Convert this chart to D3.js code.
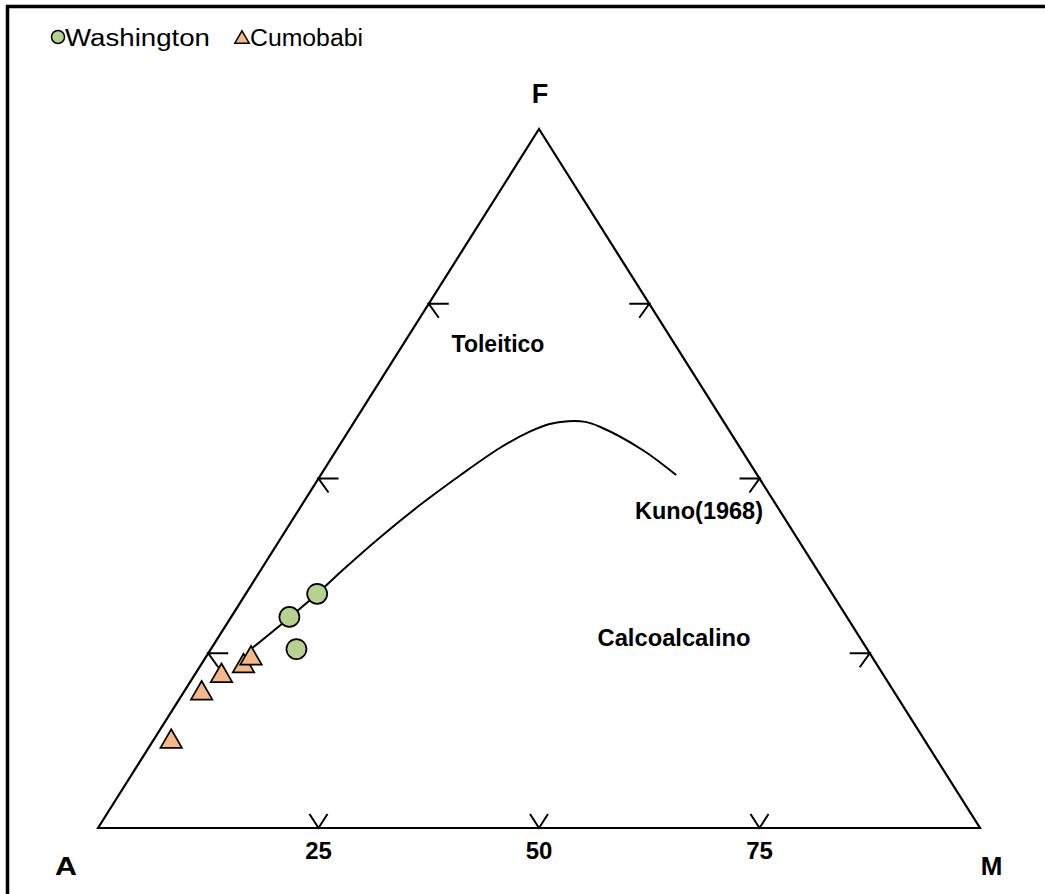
<!DOCTYPE html>
<html>
<head>
<meta charset="utf-8">
<script src="https://cdn.jsdelivr.net/npm/d3@7"></script>
<style>
  html, body { margin: 0; padding: 0; background: #fff; }
  svg { display: block; }
</style>
</head>
<body>
<svg id="chart" width="1045" height="894"></svg>
<script>
// AFM ternary diagram: A = Na2O+K2O, F = FeO total, M = MgO (percent)
const washingtonA = [58.4, 63.2, 64.7];
const washingtonF = [33.5, 30.2, 25.6];
const washingtonM = [8.1, 6.6, 9.7];

const cumobabiA = [85.3, 78.4, 74.9, 71.7, 70.3];
const cumobabiF = [12.8, 19.7, 22.2, 23.6, 24.7];
const cumobabiM = [1.9, 1.9, 2.9, 4.7, 5.0];

// Kuno (1968) tholeiitic / calc-alkaline boundary
const kunoA = [70.0, 63.1, 58.4, 53.8, 47.2, 40.4, 33.8, 27.2, 22.7, 19.9, 17.6, 15.7, 14.4, 11.2, 9.2];
const kunoF = [25.5, 30.2, 33.5, 36.9, 41.6, 46.2, 50.4, 54.4, 56.7, 57.8, 58.2, 58.1, 57.4, 54.1, 50.5];
const kunoM = [4.5, 6.7, 8.1, 9.3, 11.2, 13.4, 15.8, 18.4, 20.6, 22.3, 24.2, 26.2, 28.2, 34.8, 40.3];

const tickValues = [25, 50, 75];
const tickLabels = ["25", "50", "75"];
const seriesNames = ["Washington", "Cumobabi"];

const svg = d3.select("#chart");

// frame lines along the top and left edges
svg.append("rect")
  .attr("x", 7.5).attr("y", 6.5)
  .attr("width", 1100).attr("height", 1000)
  .attr("fill", "none").attr("stroke", "#000").attr("stroke-width", 3.5);

// ternary projection: horizontal position from M + F/2, vertical from F
const xScale = d3.scaleLinear().domain([0, 100]).range([98, 980]);
const yScale = d3.scaleLinear().domain([0, 100]).range([828, 129]);
function project(a, f, m) {
  const s = a + f + m;
  const F = f / s * 100, M = m / s * 100;
  return [xScale(M + F / 2), yScale(F)];
}

// upward triangle centred on its bounding box
const boxTriangle = {
  draw(context, size) {
    const side = Math.sqrt(size * 4 / Math.sqrt(3));
    const h = side * Math.sqrt(3) / 2;
    context.moveTo(0, -h / 2);
    context.lineTo(side / 2, h / 2);
    context.lineTo(-side / 2, h / 2);
    context.closePath();
  }
};

const vA = project(100, 0, 0), vF = project(0, 100, 0), vM = project(0, 0, 100);

svg.append("path")
  .attr("d", d3.line()([vA, vF, vM]) + "Z")
  .attr("fill", "none").attr("stroke", "#000").attr("stroke-width", 2.2)
  .attr("stroke-linejoin", "miter");

// tick marks on each side
const tickG = svg.append("g").attr("stroke", "#000").attr("stroke-width", 2).attr("fill", "none");
tickValues.forEach(v => {
  // left side (A-F)
  const pl = project(100 - v, v, 0);
  tickG.append("path").attr("d", `M${pl[0] + 20},${pl[1]}L${pl[0]},${pl[1]}L${pl[0] + 10},${pl[1] + 14}`);
  // right side (F-M)
  const pr = project(0, v, 100 - v);
  tickG.append("path").attr("d", `M${pr[0] - 20},${pr[1]}L${pr[0]},${pr[1]}L${pr[0] - 10},${pr[1] + 14}`);
  // base (A-M)
  const pb = project(100 - v, 0, v);
  tickG.append("path").attr("d", `M${pb[0] - 9},${pb[1] - 14}L${pb[0]},${pb[1]}L${pb[0] + 9},${pb[1] - 14}`);
});

// base tick labels
svg.append("g").selectAll("text")
  .data(tickValues)
  .join("text")
  .attr("x", (v) => project(100 - v, 0, v)[0])
  .attr("y", 859)
  .attr("text-anchor", "middle")
  .attr("font-family", "'Liberation Sans Narrow', 'Arial Narrow', sans-serif")
  .attr("font-weight", "bold")
  .attr("font-size", 24)
  .text((v, i) => tickLabels[i]);

// vertex labels
const labelFont = "'Liberation Sans', Arial, sans-serif";
svg.append("text").attr("x", 540).attr("y", 103).attr("text-anchor", "middle")
  .attr("font-family", labelFont).attr("font-weight", "bold").attr("font-size", 27).text("F");
svg.append("text").attr("x", 66).attr("y", 875).attr("text-anchor", "middle")
  .attr("font-family", labelFont).attr("font-weight", "bold").attr("font-size", 25)
  .attr("textLength", 22).attr("lengthAdjust", "spacingAndGlyphs").text("A");
svg.append("text").attr("x", 991.5).attr("y", 875).attr("text-anchor", "middle")
  .attr("font-family", labelFont).attr("font-weight", "bold").attr("font-size", 26).text("M");

// field labels
svg.append("text").attr("x", 498).attr("y", 352).attr("text-anchor", "middle")
  .attr("font-family", labelFont).attr("font-weight", "bold").attr("font-size", 23).text("Toleitico");
svg.append("text").attr("x", 699).attr("y", 519).attr("text-anchor", "middle")
  .attr("font-family", labelFont).attr("font-weight", "bold").attr("font-size", 23)
  .attr("textLength", 128).attr("lengthAdjust", "spacingAndGlyphs").text("Kuno(1968)");
svg.append("text").attr("x", 674).attr("y", 646).attr("text-anchor", "middle")
  .attr("font-family", labelFont).attr("font-weight", "bold").attr("font-size", 23)
  .attr("textLength", 153).attr("lengthAdjust", "spacingAndGlyphs").text("Calcoalcalino");

// Kuno boundary curve
const kunoPts = kunoA.map((a, i) => project(a, kunoF[i], kunoM[i]));
svg.append("path")
  .attr("d", d3.line().curve(d3.curveCatmullRom.alpha(0.5))(kunoPts))
  .attr("fill", "none").attr("stroke", "#000").attr("stroke-width", 2);

// data points
const greenFill = "#b7d190";
const orangeFill = "#f5b987";

svg.append("g").selectAll("path")
  .data(cumobabiA.map((a, i) => project(a, cumobabiF[i], cumobabiM[i])))
  .join("path")
  .attr("transform", d => `translate(${d[0]},${d[1]})`)
  .attr("d", d3.symbol(boxTriangle, 200)())
  .attr("fill", orangeFill).attr("stroke", "#000").attr("stroke-width", 1.7);

svg.append("g").selectAll("circle")
  .data(washingtonA.map((a, i) => project(a, washingtonF[i], washingtonM[i])))
  .join("circle")
  .attr("cx", d => d[0]).attr("cy", d => d[1]).attr("r", 10)
  .attr("fill", greenFill).attr("stroke", "#000").attr("stroke-width", 1.7);

// legend
const legend = svg.append("g");
legend.append("circle").attr("cx", 58).attr("cy", 37).attr("r", 6.5)
  .attr("fill", greenFill).attr("stroke", "#000").attr("stroke-width", 1.5);
legend.append("text").attr("x", 65).attr("y", 46)
  .attr("font-family", labelFont).attr("font-size", 23)
  .attr("textLength", 145).attr("lengthAdjust", "spacingAndGlyphs").text(seriesNames[0]);
legend.append("path").attr("transform", "translate(242,37)")
  .attr("d", d3.symbol(boxTriangle, 90)())
  .attr("fill", orangeFill).attr("stroke", "#000").attr("stroke-width", 1.5);
legend.append("text").attr("x", 250).attr("y", 46)
  .attr("font-family", labelFont).attr("font-size", 23)
  .attr("textLength", 113).attr("lengthAdjust", "spacingAndGlyphs").text(seriesNames[1]);
</script>
</body>
</html>
